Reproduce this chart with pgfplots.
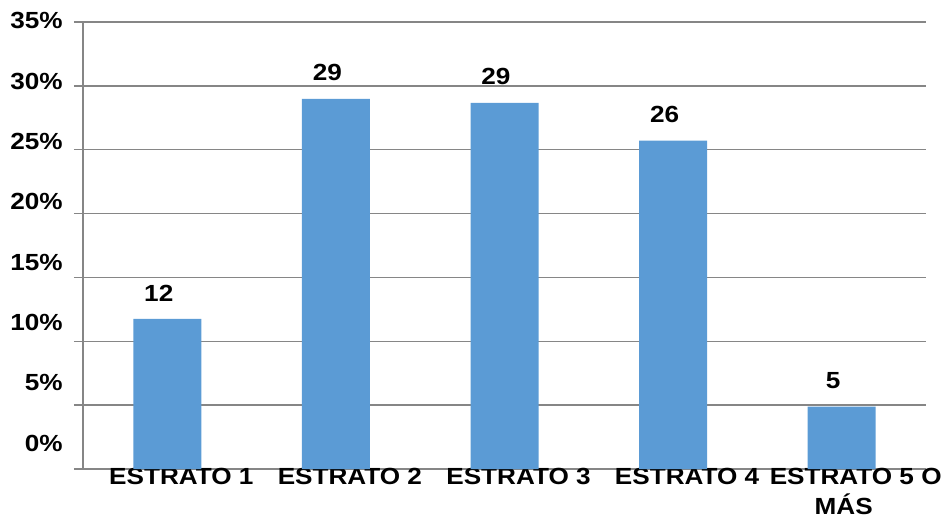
\documentclass[border=0pt]{standalone}
\usepackage{pgfplots}
\pgfplotsset{compat=1.18}
\usepackage{fontspec}
\setmainfont{Liberation Sans}[FakeStretch=1.12]
\definecolor{barblue}{HTML}{5B9BD5}
\definecolor{gridgray}{RGB}{134,134,134}
\newcommand{\lblfont}{\fontsize{17.5}{22.5}\selectfont\bfseries}
\begin{document}
\begin{tikzpicture}
\path[use as bounding box] (0,0) rectangle (714pt,388.5pt);
\begin{axis}[
  /pgf/number format/assume math mode=true,
  at={(62.25pt,36.75pt)}, anchor=south west,
  scale only axis, width=632.25pt, height=335.25pt,
  xmin=-0.5, xmax=4.5, ymin=0, ymax=35,
  axis lines*=left,
  axis line style={draw=gridgray, line width=1.1pt},
  ybar, bar width=51pt,
  ytick={0,5,...,35},
  ymajorgrids,
  grid style={gridgray, line width=1.1pt},
  tick align=outside,
  major tick length=6.75pt,
  ytick style={draw=gridgray, line width=1.1pt},
  yticklabel={\pgfmathsetmacro\sh{2*(1.3+(35-\tick)*0.70)*0.75}\raisebox{\sh pt}{\pgfmathprintnumber{\tick}\%}},
  yticklabel style={font=\lblfont, inner sep=0pt, xshift=-8.25pt},
  xtick={0,1,2,3,4},
  xticklabels={ESTRATO 1, ESTRATO 2, ESTRATO 3, ESTRATO 4, {ESTRATO 5 O\\MÁS\hspace*{18pt}}},
  xtick style={draw=none},
  xticklabel style={font=\lblfont, align=center, inner sep=0pt, xshift=10.5pt, yshift=7.5pt},
  extra x ticks={-0.5},
  extra x tick labels={},
  extra x tick style={tick style={draw=gridgray, line width=1.1pt}},
  nodes near coords={\pgfmathprintnumber[fixed,precision=0]{\pgfplotspointmeta}},
  nodes near coords style={font=\lblfont, anchor=center, yshift=19.5pt, xshift=-6.4pt, text=black},
  clip=false,
]
\addplot[fill=barblue, draw=none] coordinates {(0,11.75) (1,28.98) (2,28.67) (3,25.72) (4,4.88)};
\end{axis}
\end{tikzpicture}
\end{document}
